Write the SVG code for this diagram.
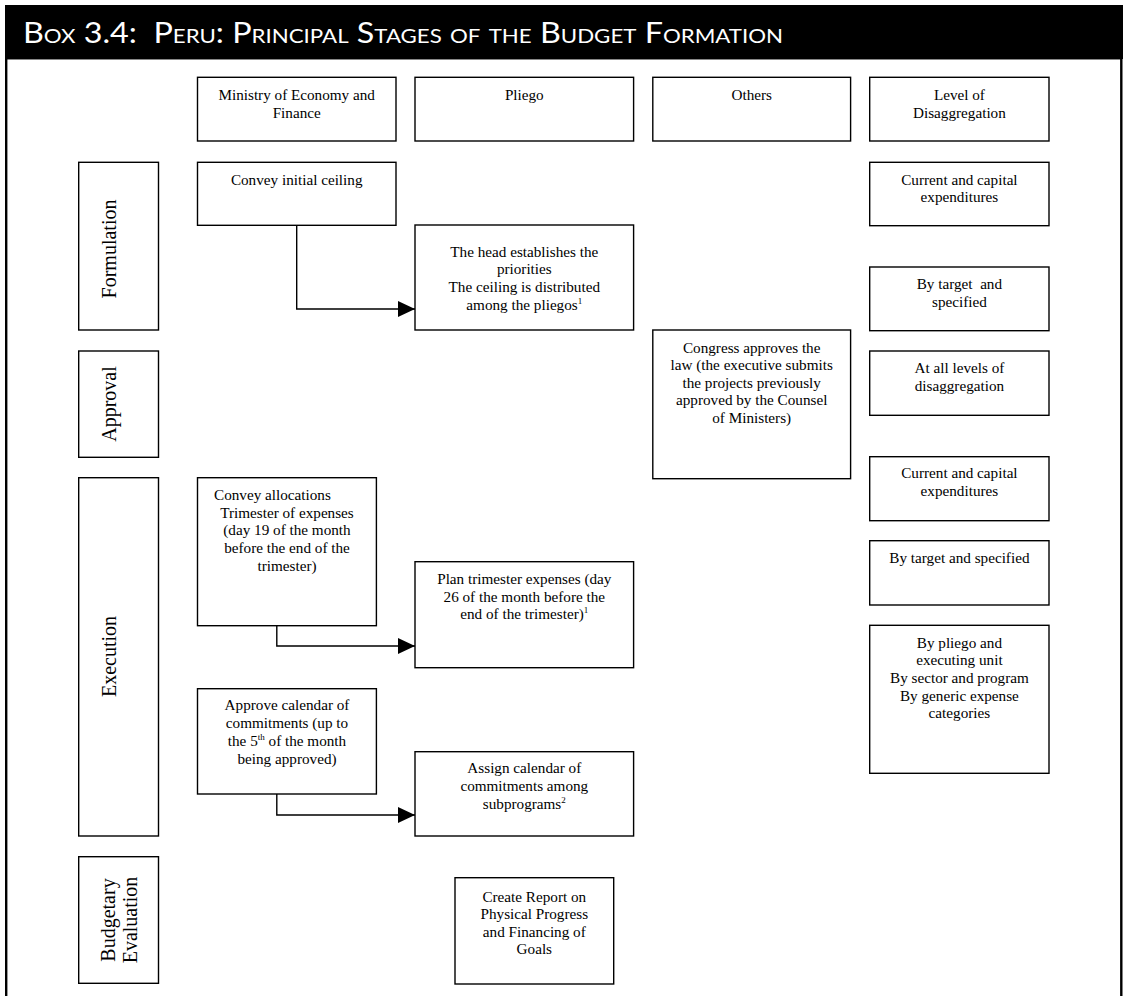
<svg xmlns="http://www.w3.org/2000/svg" width="1126" height="996" viewBox="0 0 1126 996">
<defs>
<style>
.box{fill:#fff;stroke:#000;stroke-width:1.4}
.t{font-family:"Liberation Serif","Times New Roman",serif;font-size:15.2px;fill:#000;text-anchor:middle}
.v{font-family:"Liberation Serif","Times New Roman",serif;font-size:20px;fill:#000;text-anchor:middle}
.conn{fill:none;stroke:#000;stroke-width:1.4}
.title{font-family:Lato,"Open Sans",sans-serif;font-size:29px;fill:#fff;font-variant:small-caps}
</style>
<marker id="arr" markerUnits="userSpaceOnUse" markerWidth="18" markerHeight="17" refX="17" refY="8" orient="auto">
<path d="M0,0 L17,8 L0,16 Z" fill="#000"/>
</marker>
</defs>
<rect width="1126" height="996" fill="#fff"/>
<g id="header">
<rect x="5" y="5" width="1118" height="54" fill="#000"/>
<text class="title" x="23" y="43" xml:space="preserve" textLength="760" lengthAdjust="spacingAndGlyphs">Box 3.4:  Peru: Principal Stages of the Budget Formation</text>
</g>
<g id="frame" fill="none">
<line x1="6" y1="59.5" x2="1121" y2="59.5" stroke="#888" stroke-width="1"/>
<line x1="6.2" y1="59" x2="6.2" y2="996" stroke="#000" stroke-width="2.4"/>
<line x1="1121.3" y1="59" x2="1121.3" y2="996" stroke="#000" stroke-width="2.4"/>
</g>
<g id="connectors">
<path class="conn" d="M296.7,225.3 V309 H415" marker-end="url(#arr)"/>
<path class="conn" d="M276.8,625.7 V646 H415" marker-end="url(#arr)"/>
<path class="conn" d="M276.8,794 V815 H415" marker-end="url(#arr)"/>
</g>
<g id="col-ministry">
<rect class="box" x="197.5" y="77.3" width="198.5" height="63.7"/>
<text class="t" x="296.7" y="100">Ministry of Economy and</text>
<text class="t" x="296.7" y="117.5">Finance</text>
</g>
<g id="col-pliego">
<rect class="box" x="415" y="77.3" width="218.6" height="63.7"/>
<text class="t" x="524.3" y="100">Pliego</text>
</g>
<g id="col-others">
<rect class="box" x="652.8" y="77.3" width="197.8" height="63.7"/>
<text class="t" x="751.7" y="100">Others</text>
</g>
<g id="col-level">
<rect class="box" x="869.7" y="77.3" width="179.3" height="63.7"/>
<text class="t" x="959.4" y="100">Level of</text>
<text class="t" x="959.4" y="117.5">Disaggregation</text>
</g>
<g id="stage-formulation">
<rect class="box" x="78.7" y="162.3" width="79.8" height="167.7"/>
<text class="v" transform="translate(116,249) rotate(-90)">Formulation</text>
</g>
<g id="stage-approval">
<rect class="box" x="78.7" y="351" width="79.8" height="106.3"/>
<text class="v" transform="translate(116,404) rotate(-90)">Approval</text>
</g>
<g id="stage-execution">
<rect class="box" x="78.7" y="477.7" width="79.8" height="358.3"/>
<text class="v" transform="translate(116,656.5) rotate(-90)">Execution</text>
</g>
<g id="stage-evaluation">
<rect class="box" x="78.7" y="856.7" width="79.8" height="126.6"/>
<text class="v" transform="translate(115,920) rotate(-90)">Budgetary</text>
<text class="v" transform="translate(137,920) rotate(-90)">Evaluation</text>
</g>
<g id="convey-ceiling">
<rect class="box" x="197.5" y="162.3" width="198.5" height="63"/>
<text class="t" x="296.7" y="185">Convey initial ceiling</text>
</g>
<g id="head-priorities">
<rect class="box" x="415" y="225" width="218.6" height="105"/>
<text class="t" x="524.3" y="256.7">The head establishes the</text>
<text class="t" x="524.3" y="274">priorities</text>
<text class="t" x="524.3" y="292.3">The ceiling is distributed</text>
<text class="t" x="524.3" y="310">among the pliegos<tspan dy="-6" font-size="9">1</tspan></text>
</g>
<g id="congress">
<rect class="box" x="652.8" y="330" width="197.8" height="148.7"/>
<text class="t" x="751.7" y="352.5">Congress approves the</text>
<text class="t" x="751.7" y="370">law (the executive submits</text>
<text class="t" x="751.7" y="387.5">the projects previously</text>
<text class="t" x="751.7" y="405">approved by the Counsel</text>
<text class="t" x="751.7" y="422.5">of Ministers)</text>
</g>
<g id="lvl-1">
<rect class="box" x="869.7" y="162.3" width="179.3" height="63.4"/>
<text class="t" x="959.4" y="184.5">Current and capital</text>
<text class="t" x="959.4" y="202">expenditures</text>
</g>
<g id="lvl-2">
<rect class="box" x="869.7" y="267" width="179.3" height="63.7"/>
<text class="t" x="959.4" y="289" xml:space="preserve">By target  and</text>
<text class="t" x="959.4" y="306.5">specified</text>
</g>
<g id="lvl-3">
<rect class="box" x="869.7" y="351" width="179.3" height="64.3"/>
<text class="t" x="959.4" y="373">At all levels of</text>
<text class="t" x="959.4" y="390.5">disaggregation</text>
</g>
<g id="lvl-4">
<rect class="box" x="869.7" y="456.7" width="179.3" height="64"/>
<text class="t" x="959.4" y="478">Current and capital</text>
<text class="t" x="959.4" y="496">expenditures</text>
</g>
<g id="lvl-5">
<rect class="box" x="869.7" y="540.7" width="179.3" height="64.3"/>
<text class="t" x="959.4" y="563">By target and specified</text>
</g>
<g id="lvl-6">
<rect class="box" x="869.7" y="625.3" width="179.3" height="148"/>
<text class="t" x="959.4" y="647.5">By pliego and</text>
<text class="t" x="959.4" y="665.3">executing unit</text>
<text class="t" x="959.4" y="682.5">By sector and program</text>
<text class="t" x="959.4" y="700.5">By generic expense</text>
<text class="t" x="959.4" y="718">categories</text>
</g>
<g id="convey-allocations">
<rect class="box" x="197.5" y="477.7" width="178.9" height="148"/>
<text class="t" x="214" y="500" style="text-anchor:start">Convey allocations</text>
<text class="t" x="287" y="517.5">Trimester of expenses</text>
<text class="t" x="287" y="535.3">(day 19 of the month</text>
<text class="t" x="287" y="553">before the end of the</text>
<text class="t" x="287" y="571">trimester)</text>
</g>
<g id="plan-trimester">
<rect class="box" x="415" y="561.7" width="218.6" height="106"/>
<text class="t" x="524.3" y="584">Plan trimester expenses (day</text>
<text class="t" x="524.3" y="601.5">26 of the month before the</text>
<text class="t" x="524.3" y="619">end of the trimester)<tspan dy="-6" font-size="9">1</tspan></text>
</g>
<g id="approve-calendar">
<rect class="box" x="197.5" y="688.7" width="178.9" height="105.3"/>
<text class="t" x="287" y="710">Approve calendar of</text>
<text class="t" x="287" y="728.3">commitments (up to</text>
<text class="t" x="287" y="746">the 5<tspan dy="-6" font-size="9">th</tspan><tspan dy="6"> of the month</tspan></text>
<text class="t" x="287" y="764">being approved)</text>
</g>
<g id="assign-calendar">
<rect class="box" x="415" y="751.7" width="218.6" height="84.3"/>
<text class="t" x="524.3" y="773.3">Assign calendar of</text>
<text class="t" x="524.3" y="791.3">commitments among</text>
<text class="t" x="524.3" y="809">subprograms<tspan dy="-6" font-size="9">2</tspan></text>
</g>
<g id="create-report">
<rect class="box" x="455" y="877.7" width="158.7" height="106.3"/>
<text class="t" x="534.3" y="901.5">Create Report on</text>
<text class="t" x="534.3" y="919">Physical Progress</text>
<text class="t" x="534.3" y="936.5">and Financing of</text>
<text class="t" x="534.3" y="953.5">Goals</text>
</g>
</svg>
